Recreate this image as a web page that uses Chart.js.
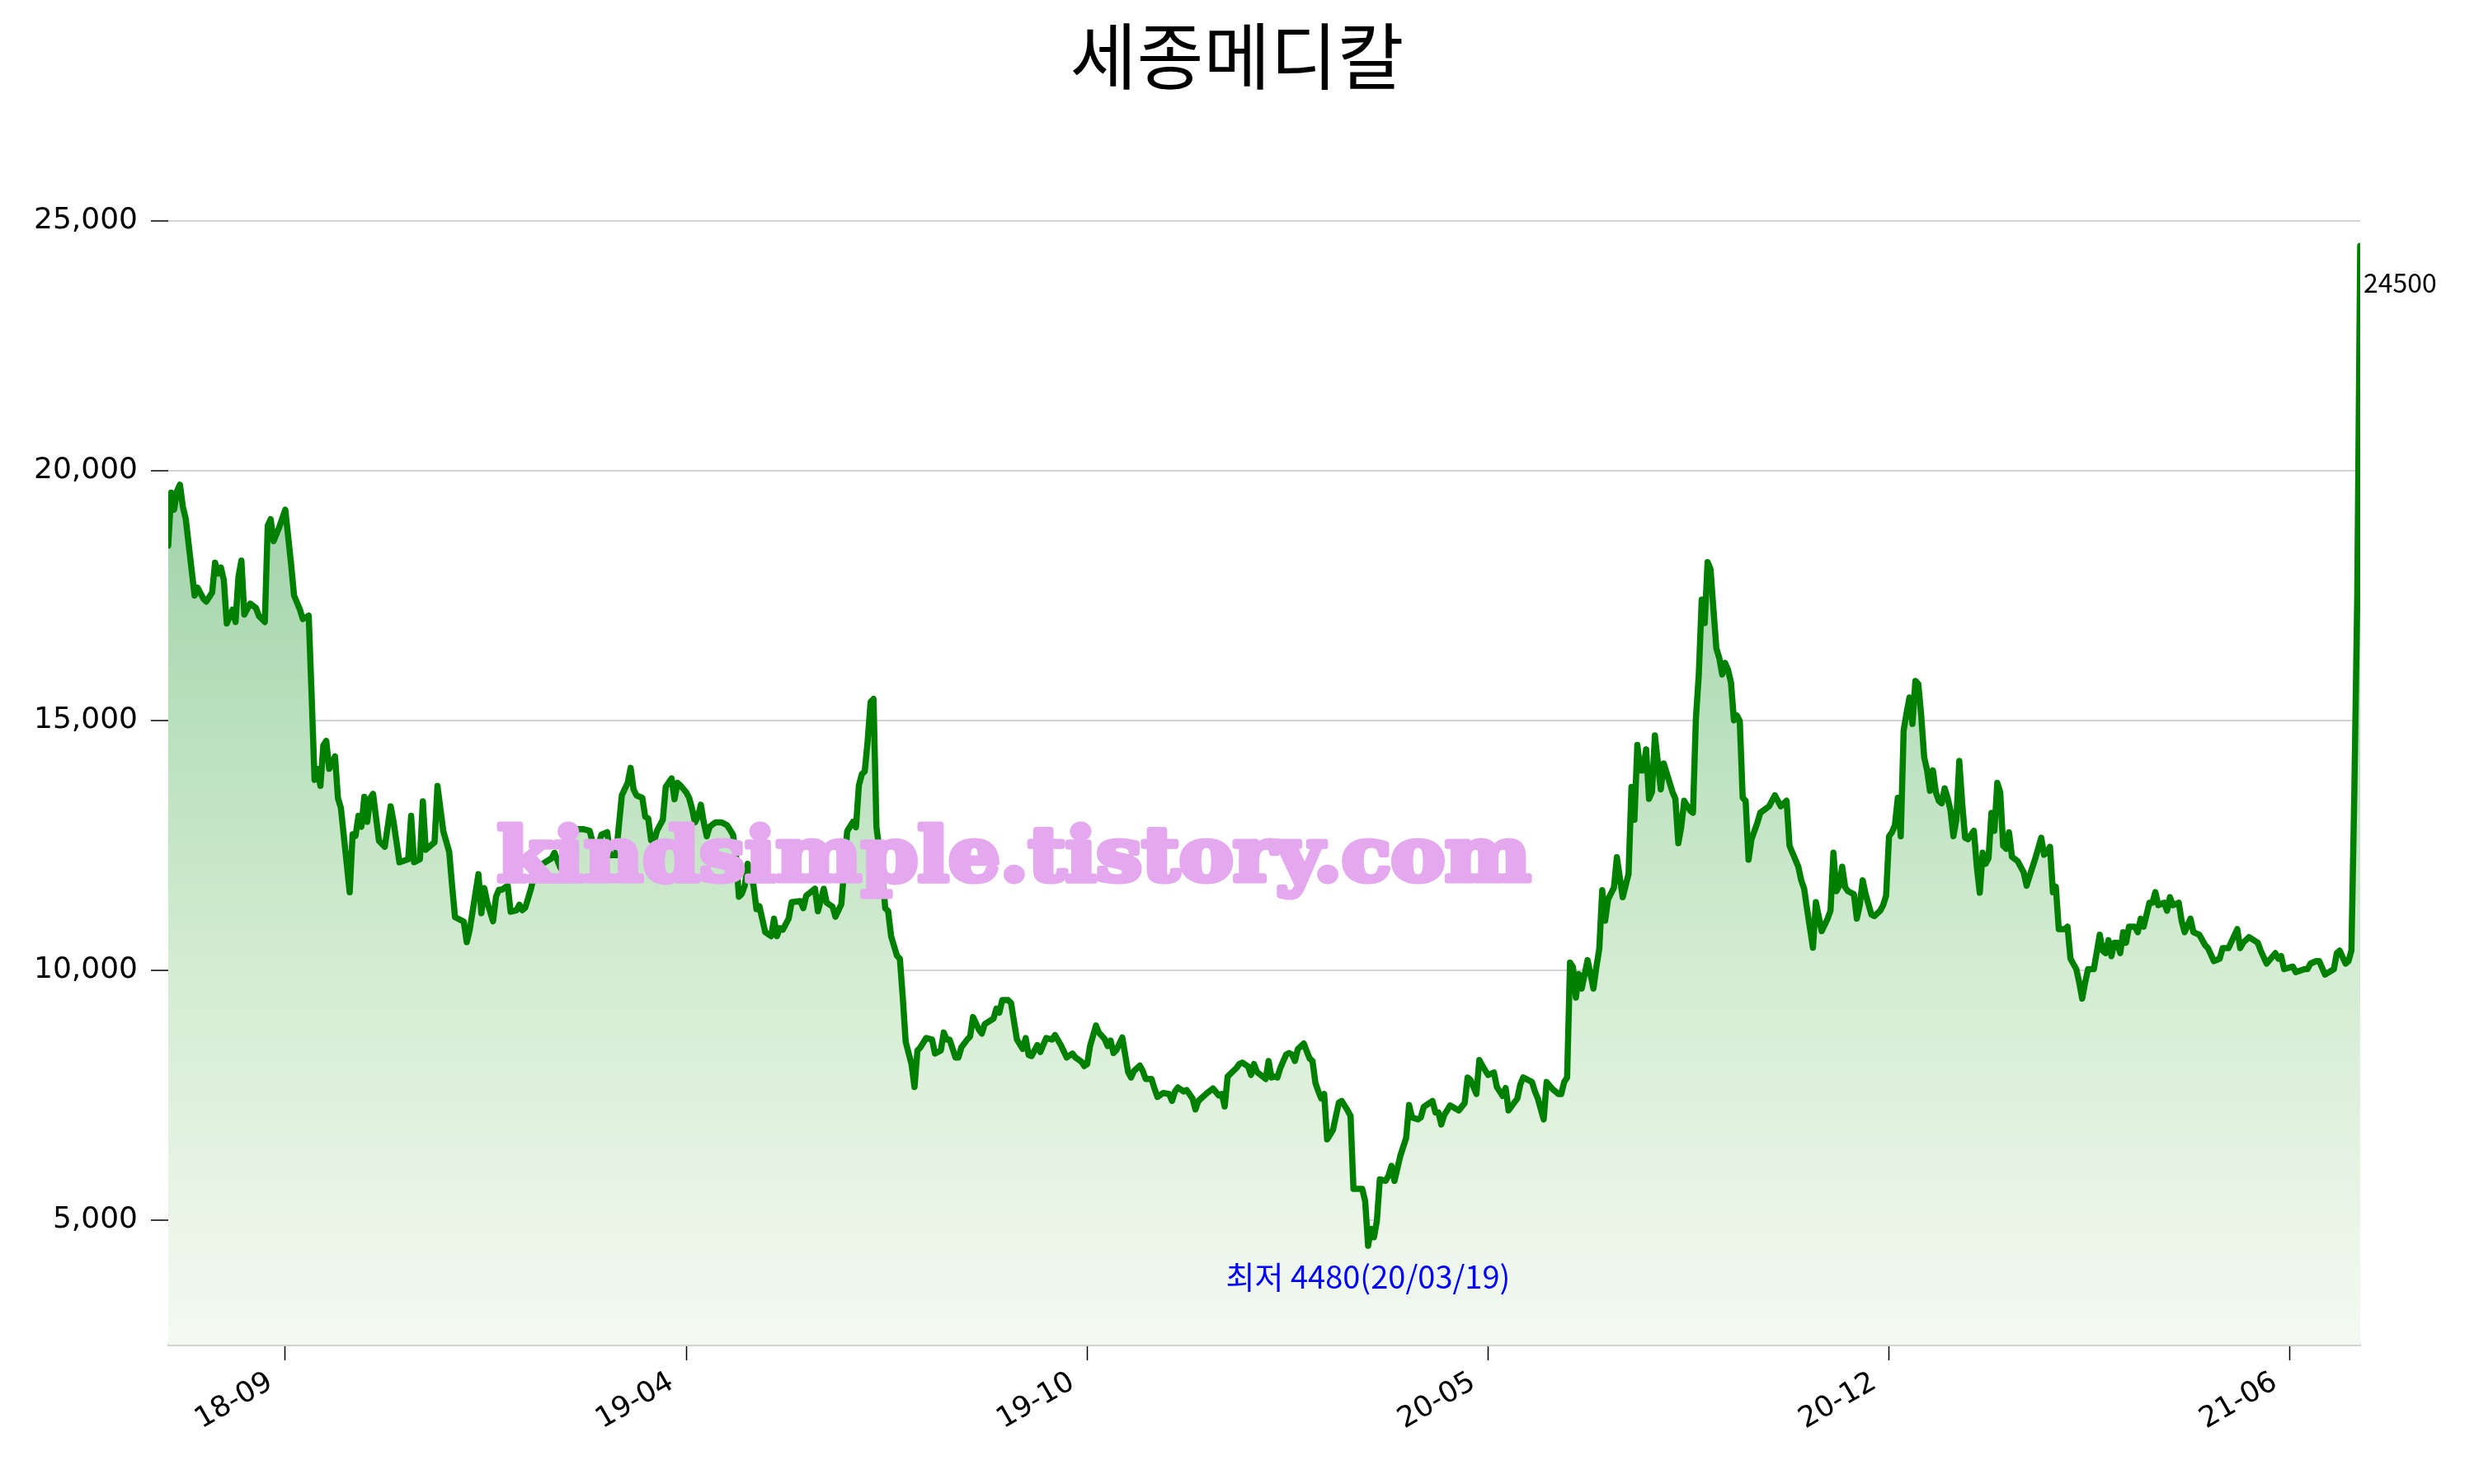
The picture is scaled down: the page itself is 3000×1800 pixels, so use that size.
<!DOCTYPE html>
<html>
<head>
<meta charset="utf-8">
<script src="https://cdn.jsdelivr.net/npm/chart.js@4"></script>
<style>
  body { margin: 0; background: #fff; }
  canvas { display: block; }
</style>
</head>
<body>
<canvas id="chart" width="3000" height="1800"></canvas>
<script>
const tradeDay = [
  0,1,2,3,4,5,6,9,10,12,13,15,16,17,18,19,20,22,23,24,25,26,28,30,31,33,34,35,36,38,
  40,42,43,45,46,48,49,50,51,52,53,54,55,57,58,59,62,63,64,65,66,67,68,69,70,72,74,76,77,79,
  82,83,84,86,87,88,91,92,94,96,97,98,101,102,103,106,107,108,109,111,112,113,114,116,117,119,120,121,122,124,
  125,128,131,132,134,136,139,142,144,145,146,148,150,151,153,154,155,157,158,159,160,162,163,164,165,166,167,169,170,172,
  173,174,175,177,178,179,180,181,182,183,184,185,187,189,191,193,194,195,196,197,198,200,201,202,204,206,207,208,209,210,
  212,213,216,217,218,221,222,224,225,227,228,230,232,234,235,236,237,238,239,240,241,242,244,245,246,247,249,250,251,252,
  254,255,256,257,259,261,262,264,265,266,267,269,270,271,273,274,275,277,278,279,282,283,284,285,287,288,290,292,293,294,
  295,297,298,300,302,303,305,307,309,310,312,313,314,315,317,318,320,321,322,323,324,326,328,329,330,332,333,334,336,337,
  338,340,342,343,344,345,347,348,350,351,352,355,357,359,360,361,362,365,366,367,369,370,371,372,374,375,376,377,378,379,
  380,382,383,384,385,386,388,390,391,392,393,394,395,396,398,400,401,403,404,405,408,409,410,411,412,413,414,416,417,418,
  419,421,423,424,425,427,428,429,432,433,434,435,436,437,438,441,443,444,445,447,448,449,451,453,454,456,457,458,461,462,
  463,466,467,468,470,471,473,475,476,477,478,479,480,481,482,483,485,487,488,489,490,491,492,494,495,497,499,500,501,502,
  503,504,505,506,507,508,510,511,514,515,516,517,518,520,521,522,523,524,525,526,527,528,529,530,531,532,533,534,535,536,
  537,538,539,540,541,543,544,547,549,550,551,553,554,555,557,558,559,560,562,563,565,567,568,569,570,571,572,573,574,576,
  577,578,579,580,582,583,585,586,587,588,589,590,591,592,593,594,595,596,597,598,599,600,601,602,603,604,605,606,607,608,
  609,610,611,612,613,614,615,617,618,619,620,621,622,623,624,625,626,627,628,629,630,632,634,635,636,638,640,641,642,643,
  644,645,646,648,649,650,652,653,654,655,656,658,660,661,662,663,664,665,666,667,668,669,670,672,673,674,675,677,678,679,
  680,682,683,684,685,687,688,689,691,692,694,696,697,699,701,702,704,707,708,709,711,714,715,717,720,721,722,723,726,727,
  730,731,732,734,735,737,740,741,742,744,745,746,747,748,749
];
const closePrice = [
  18500,19560,19220,19590,19720,19280,19030,17500,17660,17440,17380,17560,18160,17940,18060,17810,16940,17220,16970,17880,18200,17120,17340,17250,17090,16970,18900,19030,18590,18880,
  19220,18120,17500,17220,17030,17100,15500,13810,14030,13690,14500,14590,14030,14280,13440,13250,11560,12720,12690,13090,12870,13470,12970,13440,13530,12590,12470,13280,12970,12160,
  12220,13090,12160,12220,13380,12410,12560,13690,12780,12370,11690,11060,10970,10560,10800,11920,11140,11640,11360,10980,11470,11610,11610,11690,11170,11200,11310,11200,11250,11640,
  11910,12130,12240,12350,12050,12500,12820,12820,12790,12570,12300,12710,12760,12300,12300,12900,13500,13750,14050,13620,13500,13450,13070,13040,12600,12570,12790,13010,13670,13840,
  13420,13750,13700,13560,13450,13230,12960,13070,13310,12960,12680,12870,12960,12960,12900,12710,12300,11470,11530,11690,12130,11690,11220,11280,10760,10680,11030,10680,10840,10810,
  11030,11360,11380,11240,11490,11630,11180,11630,11350,11270,11070,11320,12780,12970,12860,13700,13920,13980,14590,15370,15430,12860,11970,11240,11180,10680,10290,10230,9450,8560,
  8110,7660,8390,8450,8640,8610,8330,8390,8750,8610,8610,8250,8250,8450,8610,8670,9060,8810,8730,8920,9030,9230,9150,9400,9400,9340,8610,8420,8640,8300,
  8280,8500,8360,8640,8610,8700,8500,8250,8330,8250,8170,8080,8120,8480,8890,8750,8620,8480,8590,8340,8400,8650,7960,7850,7980,8090,7980,7820,7820,7630,
  7460,7540,7520,7380,7570,7650,7570,7600,7430,7210,7380,7540,7630,7490,7520,7270,7870,8040,8120,8150,8070,7900,8120,7960,7870,7820,8180,7850,7870,7850,
  8040,8310,8340,8310,8180,8420,8530,8230,8180,7740,7570,7430,7520,6610,6800,7350,7380,7190,7080,5620,5620,5370,4480,4820,4650,4980,5810,5780,5890,6080,
  5780,6280,6640,7300,7050,7010,7050,7260,7380,7150,7150,6910,7100,7190,7290,7190,7340,7850,7800,7520,8200,8090,7900,7950,7660,7480,7640,7190,7430,7710,
  7850,7760,7570,7430,7010,7760,7620,7520,7520,7760,7850,10150,10060,9450,9920,9630,10200,9630,10060,10430,11600,10990,11420,11650,12260,11460,11930,13670,13010,14510,
  14000,14000,14420,13430,13570,14700,13620,14140,13570,13430,12540,12870,13390,13200,13150,15030,15920,17420,16950,18170,18030,17230,16440,16250,15920,16150,16010,15760,15000,15100,
  14990,13450,13390,12210,12620,12950,13150,13280,13500,13390,13280,13390,12490,12350,12070,11800,11630,11220,10450,11360,10780,11030,11190,12350,11580,11690,12070,11660,11580,11520,
  11030,11300,11800,11520,11110,11080,11190,11300,11490,12680,12760,12900,13450,12680,14800,15150,15460,14930,15790,15730,15100,14270,14000,13590,14000,13560,13390,13340,13640,13450,
  13200,12680,13010,14190,13340,12650,12620,12790,12070,11550,12350,12130,12240,13150,12790,13750,13560,12490,12430,12760,12270,12180,11960,11690,11880,12240,12650,12310,12360,12470,
  11560,11670,10820,10820,10870,10230,10020,9750,9430,9750,10020,10020,10710,10390,10340,10600,10280,10550,10550,10340,10760,10550,10870,10870,10760,11030,10870,11350,11350,11560,
  11300,11350,11190,11460,11300,11350,10980,10760,11030,10760,10710,10500,10440,10180,10230,10440,10440,10820,10440,10550,10660,10550,10390,10130,10340,10230,10280,10020,10070,9960,
  10020,10020,10130,10180,10180,9910,10020,10340,10390,10130,10180,10390,13600,17500,24500
];

const tickDay = [40, 177, 314, 451, 588, 725];
const tickLabel = ['18-09', '19-04', '19-10', '20-05', '20-12', '21-06'];
const yTicks = [5000, 10000, 15000, 20000, 25000];

const stockName = '세종메디칼';
const lowDate = '20/03/19';
const watermark = 'kindsimple.tistory.com';

Chart.defaults.font.family = '"Noto Sans CJK KR", "Noto Sans", sans-serif';

const labelPlugin = {
    id: 'priceLabels',
    afterDatasetsDraw(chart) {
        const ctx = chart.ctx;
        const pts = chart.getDatasetMeta(0).data;

        let lo = 0;
        for (let i = 1; i < closePrice.length; i++) {
            if (closePrice[i] < closePrice[lo]) lo = i;
        }
        ctx.save();
        ctx.textBaseline = 'middle';

        // title, centred on the whole canvas
        ctx.font = '88px "Noto Sans CJK KR"';
        ctx.fillStyle = '#000';
        ctx.textAlign = 'center';
        ctx.fillText(stockName, chart.width / 2, 68);

        // lowest close
        ctx.font = '38px "Noto Sans CJK KR"';
        ctx.fillStyle = '#0000ff';
        ctx.fillText('최저 ' + closePrice[lo] + '(' + lowDate + ')', pts[lo].x, pts[lo].y + 37);

        // last close
        const last = pts[pts.length - 1];
        ctx.font = '32px "Noto Sans CJK KR"';
        ctx.fillStyle = '#000';
        ctx.textAlign = 'left';
        ctx.fillText(String(closePrice[closePrice.length - 1]), last.x + 4, last.y + 44);

        // blog watermark, squeezed to the width it has in the original
        ctx.font = 'bold 90px "DejaVu Serif"';
        ctx.fillStyle = '#e4a8ee';
        ctx.strokeStyle = '#e4a8ee';
        ctx.lineWidth = 7;
        ctx.lineJoin = 'round';
        ctx.textBaseline = 'alphabetic';
        const w = ctx.measureText(watermark).width;
        ctx.translate(603, 1068);
        ctx.scale(1253 / w, 1);
        ctx.strokeText(watermark, 0, 0);
        ctx.fillText(watermark, 0, 0);
        ctx.restore();
    }
};

new Chart(document.getElementById('chart'), {
    type: 'line',
    data: {
        datasets: [{
            data: tradeDay.map((d, i) => ({ x: d, y: closePrice[i] })),
            borderColor: '#008000',
            borderWidth: 7.5,
            borderJoinStyle: 'round',
            borderCapStyle: 'round',
            pointRadius: 0,
            tension: 0,
            fill: 'start',
            backgroundColor: function (context) {
                const area = context.chart.chartArea;
                if (!area) return 'rgba(0,128,0,0.2)';
                const g = context.chart.ctx.createLinearGradient(0, area.top, 0, area.bottom);
                g.addColorStop(0, '#8cc99a');
                g.addColorStop(0.276, '#a0d2aa');
                g.addColorStop(0.467, '#b9e0bc');
                g.addColorStop(0.68, '#d3ecd2');
                g.addColorStop(0.893, '#eaf5e7');
                g.addColorStop(1, '#f4faf2');
                return g;
            },
        }],
    },
    options: {
        responsive: false,
        devicePixelRatio: 1,
        animation: false,
        layout: { padding: { left: 0, right: 138, top: 207.5, bottom: 0 } },
        plugins: {
            legend: { display: false },
            tooltip: { enabled: false },
            title: { display: false },
        },
        scales: {
            x: {
                type: 'linear',
                min: 0,
                max: 749,
                afterBuildTicks: function (scale) {
                    scale.ticks = tickDay.map(v => ({ value: v }));
                },
                afterFit: function (scale) { scale.height = 169; },
                border: { color: '#d3d3d3', width: 3 },
                grid: { drawOnChartArea: false, tickColor: '#000', tickLength: 19, tickWidth: 1.5 },
                ticks: {
                    color: '#000',
                    font: { family: '"DejaVu Sans"', size: 35 },
                    autoSkip: false,
                    minRotation: 30,
                    maxRotation: 30,
                    padding: 6,
                    labelOffset: -18,
                    callback: function (value) {
                        return tickLabel[tickDay.indexOf(value)];
                    },
                },
            },
            y: {
                min: 2500,
                max: 26000,
                afterBuildTicks: function (scale) {
                    scale.ticks = yTicks.map(v => ({ value: v }));
                },
                afterFit: function (scale) { scale.width = 204; },
                border: { display: false },
                grid: { color: '#d3d3d3', lineWidth: 2, tickColor: '#000', tickLength: 21, tickWidth: 1.5 },
                ticks: {
                    color: '#000',
                    font: { family: '"DejaVu Sans"', size: 36 },
                    padding: 16,
                    callback: function (value) {
                        return value.toLocaleString('en-US');
                    },
                },
            },
        },
    },
    plugins: [labelPlugin],
});
</script>
</body>
</html>
